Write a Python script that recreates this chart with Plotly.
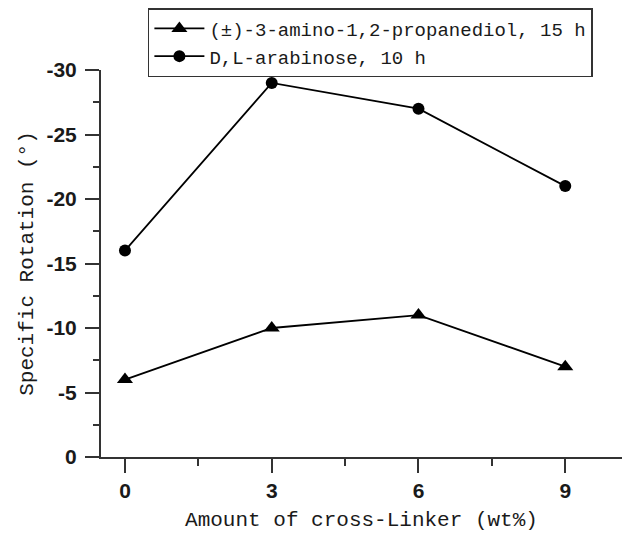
import plotly.graph_objects as go

crosslinker = [0, 3, 6, 9]
amino_15h = [-6, -10, -11, -7]
arabinose_10h = [-16, -29, -27, -21]
series_names = ["(±)-3-amino-1,2-propanediol, 15 h", "D,L-arabinose, 10 h"]
x_ticks = [0, 3, 6, 9]
y_ticks = [0, -5, -10, -15, -20, -25, -30]

INK = "#1a1a1a"
AX = "#333333"
mono = "Liberation Mono"

fig = go.Figure()
fig.add_trace(go.Scatter(
    x=crosslinker, y=amino_15h, name=series_names[0], mode="lines+markers",
    line=dict(color="black", width=1.8),
    marker=dict(symbol="triangle-up", size=14, color="black"),
))
fig.add_trace(go.Scatter(
    x=crosslinker, y=arabinose_10h, name=series_names[1], mode="lines+markers",
    line=dict(color="black", width=1.8),
    marker=dict(symbol="circle", size=12, color="black"),
))

fig.update_layout(
    width=622, height=533,
    margin=dict(l=101, r=0, t=70, b=76),
    paper_bgcolor="white", plot_bgcolor="white",
    showlegend=True,
    legend=dict(
        x=0.09, y=1.16, xanchor="left", yanchor="top",
        bordercolor=AX, borderwidth=1.5, bgcolor="white",
        font=dict(family=mono, size=19, color=INK),
        tracegroupgap=0, itemwidth=50,
    ),
    xaxis=dict(
        range=[-0.49, 10.16], tickvals=x_ticks, ticktext=[f"<b>{v}</b>" for v in x_ticks],
        showgrid=False, zeroline=False, showline=True, linecolor=AX, linewidth=2,
        ticks="outside", ticklen=14, tickwidth=2, tickcolor=AX,
        tickfont=dict(family="Liberation Sans", size=21, color=INK),
        ticklabelstandoff=0,
        minor=dict(tickvals=[1.5, 4.5, 7.5], ticks="outside", ticklen=7, tickwidth=2, tickcolor=AX),
        title=dict(text="Amount of cross-Linker (wt%)", font=dict(family=mono, size=21, color=INK), standoff=10),
    ),
    yaxis=dict(
        range=[0, -30], tickvals=y_ticks, ticktext=[f"<b>{v}</b>" for v in y_ticks],
        showgrid=False, zeroline=False, showline=True, linecolor=AX, linewidth=2,
        ticks="outside", ticklen=14, tickwidth=2, tickcolor=AX,
        tickfont=dict(family="Liberation Sans", size=21, color=INK),
        ticklabelstandoff=4,
        minor=dict(tickvals=[-2.5, -7.5, -12.5, -17.5, -22.5, -27.5], ticks="outside", ticklen=6, tickwidth=2, tickcolor=AX),
        title=dict(text="Specific Rotation (°)", font=dict(family=mono, size=21, color=INK), standoff=7),
    ),
)

fig.write_html("out.html")
